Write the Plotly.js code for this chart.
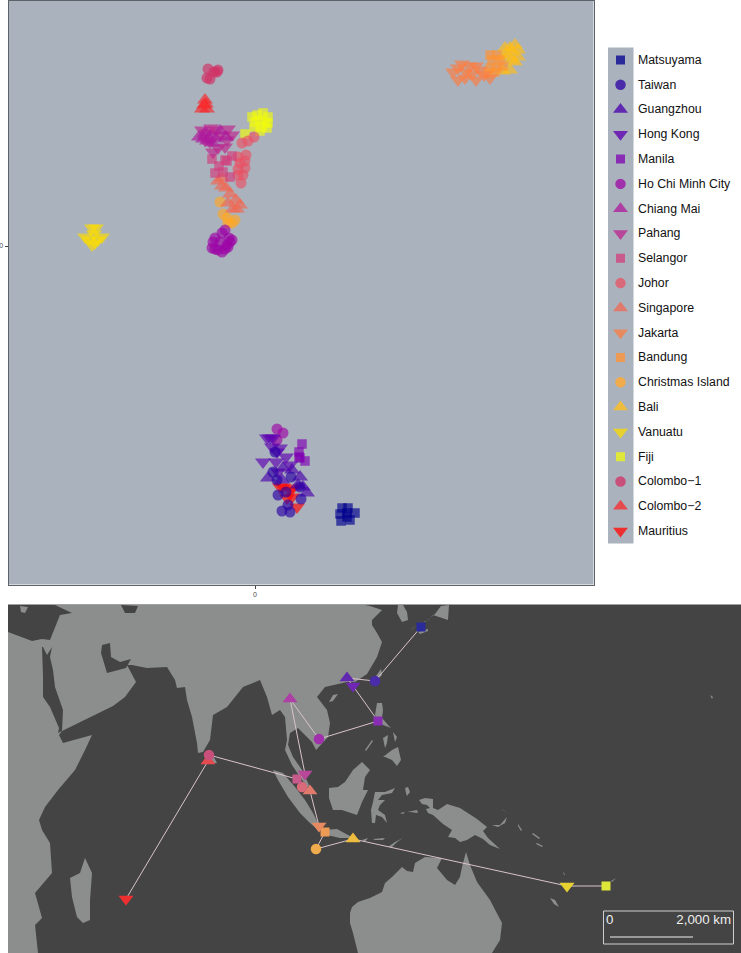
<!DOCTYPE html>
<html><head><meta charset="utf-8">
<script src="https://cdn.plot.ly/plotly-3.0.1.min.js"></script>
<style>html,body{margin:0;padding:0;background:#fff}#chart{width:741px;height:953px}</style>
</head><body><div id="chart"></div>
<script>
// Populations, legend order
const populations = ["Matsuyama","Taiwan","Guangzhou","Hong Kong","Manila","Ho Chi Minh City","Chiang Mai","Pahang","Selangor","Johor","Singapore","Jakarta","Bandung","Christmas Island","Bali","Vanuatu","Fiji","Colombo\u22121","Colombo\u22122","Mauritius"];
const symbols = ["square","circle","triangle-up","triangle-down","square","circle","triangle-up","triangle-down","square","circle","triangle-up","triangle-down","square","circle","triangle-up","triangle-down","square","circle","triangle-up","triangle-down"];
const colours = ["#00008e","#2a00a5","#4900ac","#5d00b1","#7f00b2","#9d04a6","#ae189d","#bd238e","#d23c7c","#e95264","#f26751","#fd7c41","#ff9232","#ffa826","#ffbd16","#fadb01","#f1fa0c","#d32f64","#f9272a","#ff0300"];
const keyColours = ["#2a2a9a","#4a2cab","#6128b0","#7028b4","#8a2db5","#a030ac","#ad3fa5","#b8479a","#c85a8c","#d96a7a","#e07a6c","#e88a60","#ed9a55","#f0ab4c","#eebd40","#e6d130","#dfe838","#c9507a","#e54a4f","#ee2f2f"];
const scatterSizes = [9.5,11,14,14,9.5,11,14,14,9.5,11,14,14,9.5,11,14,14,9.5,11,14,14];
const keySizes = [9,10.5,13,13,9,10.5,13,13,9,10.5,13,13,9,10.5,13,13,9,10.5,13,13];

// PCA scores, one array per population
const pc1 = [
 [87,93,85,92,100,86,95,92],
 [20,18,36,22,31,23,46,33,27,35,45],
 [13,27,28,45,48,52,37,43],
 [15,12,17,22,8,31,21,35,18,25,23],
 [47,44,50,44,45],
 [-30,-40,-33,-25,-28,-37,-43,-42,-35,-23,-27,-26,-33,-30,-40,22,28,22],
 [-56,-50,-45,-39,-48,-35,-43,-29,-52],
 [-53,-48,-44,-27,-23,-30,-42,-35,-45,-39,-50,-37,-28],
 [-43,-30,-40,-25,-23,-32,-36,-28],
 [-13,-7,-1,-9,-17,-15,-10,-17,-12,-14,-10,-17],
 [-33,-37,-29,-25,-19,-27,-22,-18,-33,-15],
 [203,203,211,215,221,225,221,210,229,235,217,198,207],
 [235,242,237,245,235,242,248,240,233],
 [-35,-32,-28,-23,-20,-27],
 [260,255,250,263,257,263,252,248,257,260,255,248],
 [-163,-159,-170,-153,-163,-160,-166,-157,-161],
 [-3,8,13,13,7,0,5,10,-10,2,12,5,-1],
 [-47,-37,-41,-45,-48,-38],
 [-50,-53,-48,-51,-49],
 [25,38,32,42,37,28,35]
];
const pc2 = [
 [-262,-262,-268,-267,-267,-275,-274,-271],
 [-206,-226,-231,-234,-246,-249,-253,-259,-265,-266,-241],
 [-232,-234,-222,-231,-241,-247,-224,-239],
 [-192,-192,-201,-206,-216,-211,-216,-219,-192,-202,-226],
 [-198,-206,-215,-211,-212],
 [16,8,13,4,1,-4,-2,4,4,6,-1,8,-6,-3,-3,-183,-187,-194],
 [109,113,110,107,105,115,103,109,107],
 [116,113,118,117,111,99,94,111,104,116,106,98,106],
 [87,86,73,69,90,74,80,85],
 [103,105,109,91,89,83,78,71,71,63,85,77],
 [68,65,58,52,46,43,37,37,60,41],
 [178,166,174,180,180,176,166,168,171,168,172,174,182],
 [191,191,186,186,178,178,180,174,173],
 [44,32,28,23,26,23],
 [201,198,198,196,194,189,191,189,186,184,176,175],
 [18,18,9,9,1,3,6,6,12],
 [129,133,129,123,119,124,126,124,112,131,118,115,119],
 [177,176,174,167,168,174],
 [146,137,137,141,142],
 [-241,-242,-252,-261,-251,-241,-244]
];

// Sampling sites on the map
const siteX = [421,375,347,353,378,319,290,305,297,302,310,319,325,316,353,567,606,209,208,126];
const siteY = [627,681,678,686,721,739,699,774,779,787,791,826,832,849,839,886,886,755,761,899];
const routeA = [0,1,2,3,4,5,6,7,8,9,10,11,12,13,14,15,16];
const routeB = [8,17,18,19];

// Land outlines in map units
const mainland = [[8,953],[38,953],[35,925],[42,918],[35,893],[52,873],[50,843],[42,830],[39,820],[45,807],[58,790],[75,770],[85,750],[92,735],[63,743],[59,735],[62,731],[80,722],[100,712],[113,706],[125,697],[136,682],[127,665],[132,665],[147,668],[167,667],[175,680],[177,688],[185,687],[187,700],[192,717],[197,743],[198,753],[203,752],[210,740],[213,715],[227,707],[243,687],[260,680],[267,697],[272,715],[280,710],[285,717],[287,740],[285,750],[292,765],[300,777],[308,788],[309,785],[302,770],[293,757],[288,745],[290,733],[298,728],[312,742],[316,750],[328,737],[330,723],[327,710],[317,697],[325,687],[335,685],[347,682],[355,682],[367,674],[377,657],[382,642],[377,633],[372,625],[372,620],[382,610],[370,606],[365,605],[8,605]];
const korea = [[398,605],[397,613],[402,622],[408,620],[407,612],[403,605]];
const japan = [[410,631],[417,625],[428,620],[433,615],[448,620],[449,605],[441,606],[435,614],[425,622],[420,623],[413,628]];
const shikoku = [[418,632],[428,629],[428,631],[420,634]];
const taiwanIsland = [[376,676],[381,669],[382,675],[378,679]];
const hainan = [[329,702],[333,695],[338,694],[333,701]];
const luzon = [[377,703],[382,703],[383,710],[382,718],[388,725],[391,728],[383,725],[378,720],[375,715]];
const visayas = [[383,738],[388,735],[387,743],[385,748]];
const samar = [[393,732],[397,737],[395,742]];
const mindanao = [[383,757],[392,750],[398,747],[401,760],[397,766],[392,760],[385,757]];
const palawan = [[365,750],[372,740],[373,741],[366,751]];
const borneo = [[329,788],[338,787],[345,782],[353,770],[362,762],[370,770],[365,777],[363,790],[368,790],[362,802],[357,815],[350,813],[342,810],[333,810],[329,798]];
const sumatra = [[273,770],[283,773],[295,787],[305,800],[313,813],[320,827],[318,830],[310,823],[300,813],[288,797],[278,780]];
const java = [[323,830],[337,829],[348,835],[358,840],[350,838],[340,838],[327,835]];
const sumbawa = [[362,840],[368,838],[365,842]];
const flores = [[373,839],[385,838],[383,840],[375,840]];
const timor = [[388,847],[395,842],[403,838],[397,842],[392,847]];
const sulawesi = [[375,792],[385,792],[395,788],[392,793],[382,795],[378,800],[385,800],[380,805],[378,810],[385,815],[387,823],[382,817],[376,815],[375,823],[372,823],[371,810],[373,802]];
const halmahera = [[405,788],[408,787],[410,792],[407,796],[406,793]];
const buru = [[400,813],[405,812],[403,814]];
const seram = [[407,812],[417,810],[418,813],[410,812]];
const newGuinea = [[419,800],[425,798],[433,799],[433,808],[438,810],[447,804],[460,808],[477,819],[487,827],[483,831],[488,838],[500,849],[490,845],[483,839],[475,835],[467,840],[460,842],[455,838],[448,837],[452,830],[443,824],[433,815],[428,813],[426,809],[430,808],[427,805],[422,804]];
const newBritain = [[492,825],[500,825],[507,817],[505,823],[498,827]];
const newIreland = [[502,809],[508,813],[509,814],[503,810]];
const solomonsA = [[518,824],[522,830],[521,831],[518,826]];
const solomonsB = [[533,833],[540,838],[539,839],[532,834]];
const solomonsC = [[537,843],[543,846],[542,847],[536,844]];
const newCaledonia = [[550,898],[555,900],[559,907],[554,904]];
const vanuatuIsland = [[563,871],[565,875],[564,875]];
const fijiIsland = [[611,881],[616,878],[612,882]];
const hawaii = [[710,695],[713,697],[712,699]];
const australia = [[350,913],[352,907],[358,902],[370,898],[382,892],[385,883],[392,877],[402,867],[407,871],[413,872],[415,863],[425,857],[442,858],[437,868],[447,880],[455,885],[460,877],[462,867],[466,852],[470,865],[477,882],[490,900],[502,923],[500,940],[492,953],[358,953],[353,933],[350,923]];
const madagascar = [[85,858],[92,873],[90,900],[90,920],[83,923],[77,917],[72,897],[70,878],[80,873]];
const sriLanka = [[210,750],[217,763],[213,763],[208,763],[207,758]];
const landShapes = [mainland,korea,japan,shikoku,taiwanIsland,hainan,luzon,visayas,samar,mindanao,palawan,borneo,sumatra,java,sumbawa,flores,timor,sulawesi,halmahera,buru,seram,newGuinea,newBritain,newIreland,solomonsA,solomonsB,solomonsC,newCaledonia,vanuatuIsland,fijiIsland,hawaii,australia,madagascar,sriLanka];

const redSea = [[58,733],[62,731],[63,710],[55,687],[53,670],[50,657],[52,647],[47,655],[43,647],[42,647],[43,677],[43,697],[50,707],[59,728]];
const persianGulf = [[102,645],[110,643],[111,657],[120,662],[131,659],[126,668],[107,673],[104,663],[101,653]];
const blackSea = [[8,605],[55,605],[72,613],[60,615],[50,640],[42,639],[32,641],[8,632]];
const caspian = [[121,605],[138,606],[135,613],[125,613]];
const waterShapes = [redSea,persianGulf,blackSea,caspian];
const crete = [[20,606],[28,607],[25,613],[21,612]];

function outline(shapes){
  const x=[],y=[];
  shapes.forEach(s=>{s.forEach(p=>{x.push(p[0]);y.push(p[1]);});x.push(null);y.push(null);});
  return {x,y};
}
const px = {w:741,h:953};
const landPts = outline(landShapes), waterPts = outline(waterShapes), cretePts = outline([crete]);
const traces = [];
const landColour = "#8c8e8d", seaColour = "#444444";
traces.push({x:landPts.x,y:landPts.y,xaxis:"x2",yaxis:"y2",mode:"lines",fill:"toself",fillcolor:landColour,line:{width:0,color:landColour},hoverinfo:"skip"});
traces.push({x:waterPts.x,y:waterPts.y,xaxis:"x2",yaxis:"y2",mode:"lines",fill:"toself",fillcolor:seaColour,line:{width:0,color:seaColour},hoverinfo:"skip"});
traces.push({x:cretePts.x,y:cretePts.y,xaxis:"x2",yaxis:"y2",mode:"lines",fill:"toself",fillcolor:landColour,line:{width:0,color:landColour},hoverinfo:"skip"});
[routeA,routeB].forEach(r=>{
  traces.push({x:r.map(i=>siteX[i]),y:r.map(i=>siteY[i]),xaxis:"x2",yaxis:"y2",mode:"lines",line:{color:"#d9c3ca",width:1},hoverinfo:"skip"});
});
// Scale bar
const scaleX=[610,693], scaleY=[937,937];
traces.push({x:scaleX,y:scaleY,xaxis:"x2",yaxis:"y2",mode:"lines",line:{color:"#f0f0f0",width:1},hoverinfo:"skip"});
traces.push({x:[606,731],y:[921,921],text:["0","2,000 km"],xaxis:"x2",yaxis:"y2",mode:"text",textposition:["middle right","middle left"],textfont:{family:"Liberation Sans, Arial, sans-serif",size:13.3,color:"#eeeeee"},hoverinfo:"skip"});

// PCA points, drawn from the last population to the first; sites; legend keys
for(let i=populations.length-1;i>=0;i--){
  traces.push({x:pc1[i],y:pc2[i],xaxis:"x",yaxis:"y",mode:"markers",name:populations[i],
    marker:{symbol:symbols[i],size:scatterSizes[i],color:colours[i],opacity:0.65,line:{width:0}}});
}
for(let i=populations.length-1;i>=0;i--){
  traces.push({x:[siteX[i]],y:[siteY[i]],xaxis:"x2",yaxis:"y2",mode:"markers",name:populations[i],
    marker:{symbol:symbols[i],size:keySizes[i],color:keyColours[i],line:{width:0}}});
  traces.push({x:[12.5],y:[i],xaxis:"x3",yaxis:"y3",mode:"markers",name:populations[i],
    marker:{symbol:symbols[i],size:keySizes[i],color:keyColours[i],line:{width:0}}});
}
traces.push({x:populations.map(()=>30),y:populations.map((_,i)=>i+0.03),text:populations,xaxis:"x3",yaxis:"y3",mode:"text",textposition:"middle right",
  textfont:{family:"Liberation Sans, Arial, sans-serif",size:12.3,color:"#111111"},hoverinfo:"skip"});

const panelAxis = {showgrid:false,zeroline:false,showline:true,mirror:true,linecolor:"#5d6268",linewidth:1,ticks:"outside",ticklen:3,tickwidth:1,tickcolor:"#444",tickvals:[0],ticktext:["0"],tickfont:{family:"Liberation Sans, Arial, sans-serif",size:7,color:"#4d4d4d"}};
const hidden = {visible:false,showgrid:false,zeroline:false,fixedrange:true};
const layout = {
  width:px.w,height:px.h,autosize:false,showlegend:false,hovermode:false,
  margin:{l:0,r:0,t:0,b:0,pad:0},paper_bgcolor:"#ffffff",plot_bgcolor:"rgba(0,0,0,0)",
  xaxis:Object.assign({},panelAxis,{domain:[8.5/741,593.5/741],range:[-246.5,338.5],anchor:"y"}),
  yaxis:Object.assign({},panelAxis,{domain:[(953-584.5)/953,(953-0.5)/953],range:[-338.5,245.5],anchor:"x"}),
  xaxis2:Object.assign({},hidden,{domain:[8/741,1],range:[8,741],anchor:"y2"}),
  yaxis2:Object.assign({},hidden,{domain:[0,(953-604.5)/953],range:[953,604.5],anchor:"x2"}),
  xaxis3:Object.assign({},hidden,{domain:[608/741,1],range:[0,133],anchor:"y3"}),
  yaxis3:Object.assign({},hidden,{domain:[(953-543.5)/953,(953-47.5)/953],range:[19.5,-0.5],anchor:"x3"}),
  shapes:[
    {type:"rect",layer:"below",xref:"x domain",yref:"y domain",x0:0,x1:1,y0:0,y1:1,fillcolor:"#aab3bd",line:{width:0}},
    {type:"rect",layer:"below",xref:"x2 domain",yref:"y2 domain",x0:0,x1:1,y0:0,y1:1,fillcolor:seaColour,line:{width:0}},
    {type:"rect",layer:"below",xref:"x3",yref:"y3 domain",x0:0,x1:25.5,y0:0,y1:1,fillcolor:"#aab3bd",line:{width:0}},
    {type:"rect",layer:"above",xref:"x2",yref:"y2",x0:603.5,x1:733.5,y0:911,y1:944,fillcolor:"rgba(0,0,0,0)",line:{color:"#cfcfcf",width:1}}
  ]
};
Plotly.newPlot("chart",traces,layout,{displayModeBar:false,staticPlot:true});
</script></body></html>
